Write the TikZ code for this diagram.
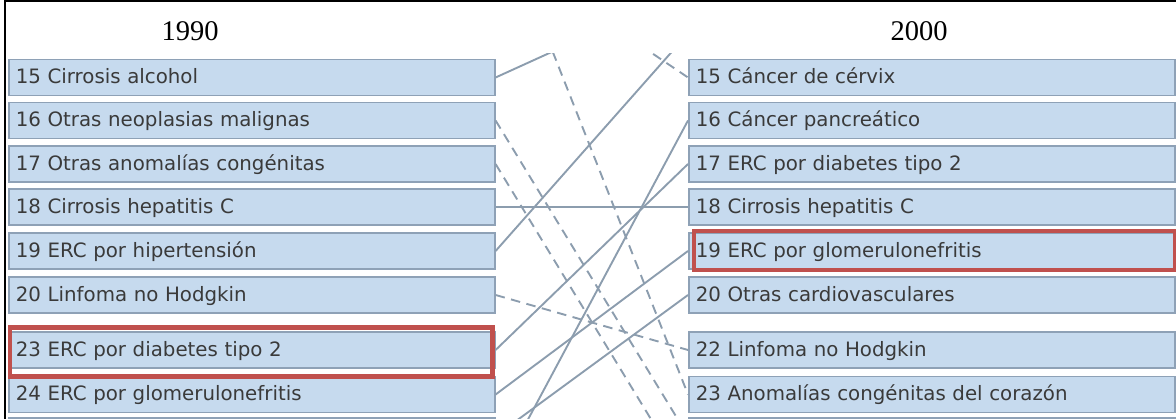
\documentclass[tikz,border=0pt]{standalone}
\usepackage{xcolor}
\usepackage{fontspec}
\setmainfont{Liberation Serif}
\newfontfamily\boxfont{DejaVu Sans}
\usepackage{tikz}
\usetikzlibrary{positioning}
\definecolor{boxfill}{HTML}{C6DAEE}
\definecolor{boxline}{HTML}{8EA1B6}
\definecolor{linkcol}{HTML}{8C9DAE}
\definecolor{markred}{HTML}{C0504D}
\definecolor{boxtext}{HTML}{3A3A3A}

\begin{document}
\begin{tikzpicture}[
			x = 1pt, y = -1pt,
			rankbox/.style = {draw=boxline, line width=1.6pt, fill=boxfill, anchor=west,
				minimum height=36pt, text width=472pt, inner xsep=7pt, inner ysep=0pt,
				text height=17pt, text depth=4pt, align=left, text=boxtext,
				font=\boxfont\fontsize{19.8}{22}\selectfont},
			rise/.style = {draw=linkcol, line width=1.9pt},
			fall/.style = {rise, dash pattern=on 9.5pt off 6.5pt},
			redmark/.style = {draw=markred, line width=4.5pt},
			year/.style = {font=\fontsize{28.5}{30}\selectfont}
			]

			\def\xl{8}
			\def\xr{688}

			\useasboundingbox (0,0) rectangle (1176,419);
			\clip (0,0) rectangle (1176,419);

			\draw[line width=1.5pt] (4.8,419) |- (1176,0.8);

			\node[year] (y1990) at (190,31) {1990};
			\node[year] (y2000) at (919,31) {2000};

			% 1990
			\foreach \n/\y/\t in {15/77.5/Cirrosis alcohol, 16/120.5/Otras neoplasias malignas,
				17/164/Otras anomalías congénitas, 18/207/Cirrosis hepatitis C,
				19/251/ERC por hipertensión, 20/295/Linfoma no Hodgkin,
				23/350/ERC por diabetes tipo 2, 24/394.5/ERC por glomerulonefritis}
				\node[rankbox] (l\n) at (\xl,\y) {\n\ \t};
			\node[rankbox] (l25) at (\xl,436) {};
			\node[rankbox] (l26) at (\xl,480) {};

			% 2000
			\foreach \n/\y/\t in {15/77.5/Cáncer de cérvix, 16/120.5/Cáncer pancreático,
				17/164/ERC por diabetes tipo 2, 18/207/Cirrosis hepatitis C,
				19/251/ERC por glomerulonefritis, 20/295/Otras cardiovasculares,
				22/350/Linfoma no Hodgkin, 23/394.5/Anomalías congénitas del corazón}
				\node[rankbox] (r\n) at (\xr,\y) {\n\ \t};
			\node[rankbox] (r24) at (\xr,436) {};
			\node[rankbox] (r25) at (\xr,480) {};

			% ranks above the view
			\coordinate (l11) at (494,-97);
			\coordinate (l12) at (494,-53.5);
			\coordinate (r13) at (\xr,-10);
			\coordinate (r14) at (\xr,33.5);

			\begin{scope}
				\clip (494,54) rectangle (\xr,419);
				\draw[rise] (l15.east) -- (r13);
				\draw[rise] (l19.east) -- (r14);
				\draw[rise] (l18.east) -- (r18.west);
				\draw[rise] (l23.east) -- (r17.west);
				\draw[rise] (l24.east) -- (r19.west);
				\draw[rise] (l25.east) -- (r20.west);
				\draw[rise] (l26.east) -- (r16.west);
				\draw[fall] (l11) -- (r23.west);
				\draw[fall] (l12) -- (r15.west);
				\draw[fall] (l16.east) -- (r24.west);
				\draw[fall] (l17.east) -- (r25.west);
				\draw[fall] (l20.east) -- (r22.west);
			\end{scope}

			\draw[redmark] ([shift={(2,-3.5)}]l23.north west) rectangle ([shift={(-3,7.5)}]l23.south east);
			\draw[redmark] ([shift={(6,-1.4)}]r19.north west) rectangle (r19.south east);

		\end{tikzpicture}
\end{document}
